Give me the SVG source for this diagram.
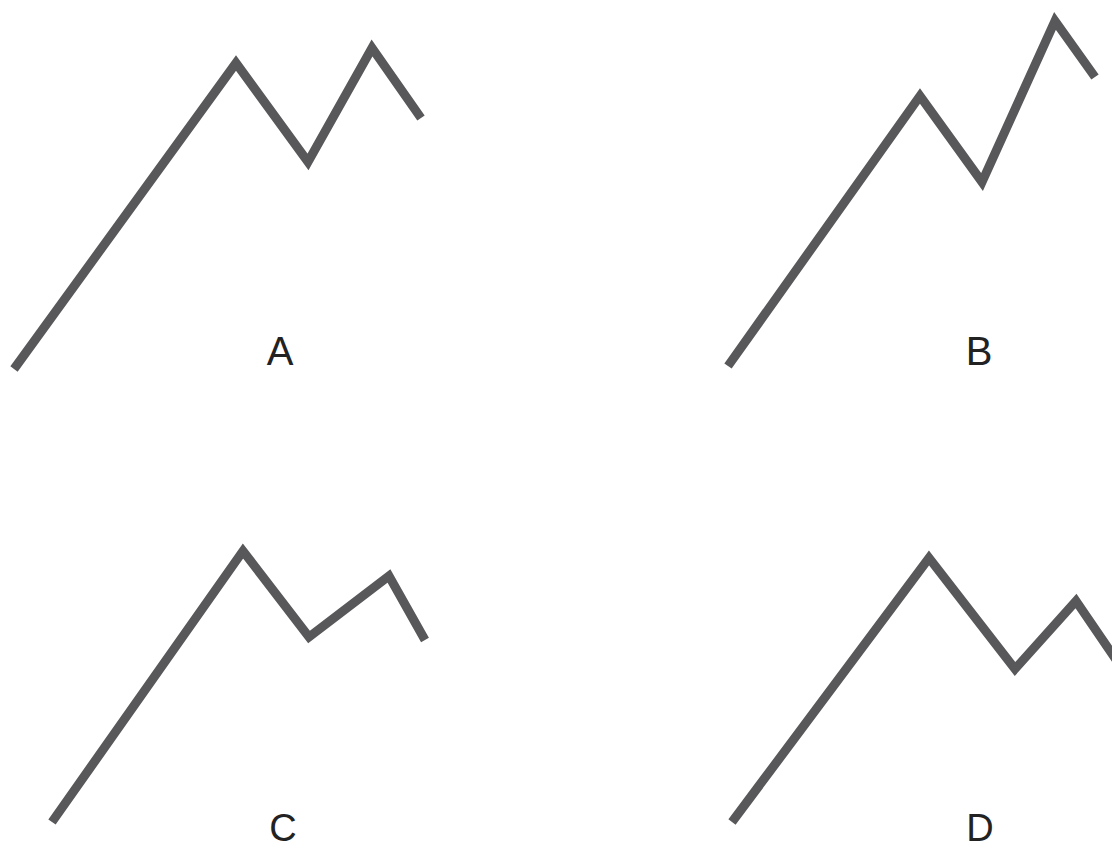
<svg xmlns="http://www.w3.org/2000/svg" width="1112" height="850" viewBox="0 0 1112 850">
<style>
.ln{fill:none;stroke:#58585a;stroke-width:9;stroke-linejoin:miter;stroke-linecap:butt}
.lb{font-family:"Liberation Sans",Arial,sans-serif;font-size:40px;fill:#222;text-anchor:middle}
.lb2{font-size:38px}
</style>
<rect width="1112" height="850" fill="#fff"/>
<g id="connectors">
<polyline id="lineA" class="ln" points="14,369 236,63 308,162 372,48 421,118"/>
<polyline id="lineB" class="ln" points="728,366 920,96 982,182 1055,21 1095,77"/>
<polyline id="lineC" class="ln" points="52,822 243,551 309,637 389,576 425,640"/>
<polyline id="lineD" class="ln" points="732,822 929,558 1015,669 1076,601 1130,680"/>
</g>
<g id="label-A"><text class="lb" x="280" y="365">A</text></g>
<g id="label-B"><text class="lb" x="979" y="365">B</text></g>
<g id="label-C"><text class="lb lb2" x="283" y="841">C</text></g>
<g id="label-D"><text class="lb lb2" x="980" y="841">D</text></g>
</svg>
